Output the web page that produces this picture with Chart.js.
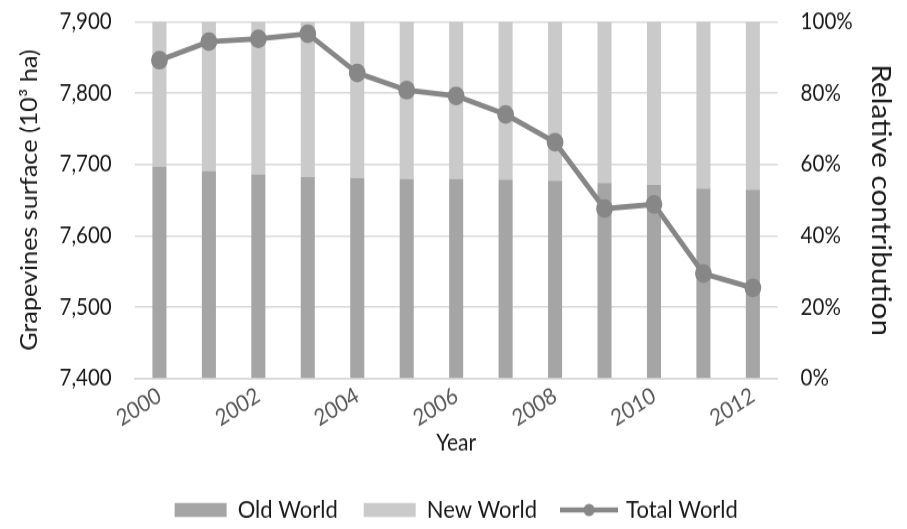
<!DOCTYPE html>
<html>
<head>
<meta charset="utf-8">
<script src="https://cdn.jsdelivr.net/npm/chart.js@4"></script>
<style>
  html, body { margin: 0; padding: 0; background: #fff; }
  #wrap { width: 907px; height: 529px; overflow: hidden; }
</style>
</head>
<body>
<div id="wrap">
  <!-- the reference is a little taller than wide in its glyphs, so the canvas is drawn shorter and stretched -->
  <canvas id="grapeChart" width="907" height="472" style="width:907px;height:529px;display:block"></canvas>
</div>
<script>
// values
const years = ['2000', '2001', '2002', '2003', '2004', '2005', '2006', '2007', '2008', '2009', '2010', '2011', '2012'];
const oldWorld = [59.4, 58.2, 57.2, 56.5, 56.2, 56.0, 56.0, 55.7, 55.4, 54.8, 54.3, 53.2, 52.9];
const newWorld = [40.6, 41.8, 42.8, 43.5, 43.8, 44.0, 44.0, 44.3, 44.6, 45.2, 45.7, 46.8, 47.1];
const totalWorld = [7846, 7872, 7876, 7883, 7828, 7804, 7796, 7770, 7731, 7638, 7644, 7547, 7527];

const font = "Lato, 'Open Sans', sans-serif";
Chart.defaults.font.family = font;
Chart.defaults.color = '#595959';

// little line+dot picture used as the legend symbol of the total
const lineSym = document.createElement('canvas');
lineSym.width = 58; lineSym.height = 14;
const lc = lineSym.getContext('2d');
lc.strokeStyle = '#878787';
lc.lineWidth = 4.5;
lc.beginPath(); lc.moveTo(0, 7); lc.lineTo(58, 7); lc.stroke();
lc.fillStyle = '#878787';
lc.beginPath(); lc.arc(29, 7, 5.5, 0, Math.PI * 2); lc.fill();

const clear = 'rgba(0,0,0,0)';

const ctx = document.getElementById('grapeChart').getContext('2d');
new Chart(ctx, {
    data: {
        labels: years,
        datasets: [
            {
                type: 'line',
                label: 'Total World',
                data: totalWorld,
                yAxisID: 'y',
                borderColor: '#878787',
                backgroundColor: '#878787',
                borderWidth: 4.8,
                pointRadius: 6,
                pointHoverRadius: 6,
                tension: 0,
                order: 0
            },
            {
                type: 'bar',
                label: 'Old World',
                data: oldWorld,
                yAxisID: 'y2',
                backgroundColor: '#a5a5a5',
                barPercentage: 0.284,
                categoryPercentage: 1,
                order: 1
            },
            {
                type: 'bar',
                label: 'New World',
                data: newWorld,
                yAxisID: 'y2',
                backgroundColor: '#cacaca',
                barPercentage: 0.284,
                categoryPercentage: 1,
                order: 1
            }
        ]
    },
    options: {
        responsive: false,
        animation: false,
        devicePixelRatio: 1,
        layout: { padding: { left: 12.5, right: 7, top: 0, bottom: -4 } },
        scales: {
            x: {
                stacked: true,
                grid: { display: false, drawTicks: false },
                border: { color: '#d9d9d9', width: 1.5 },
                ticks: {
                    autoSkip: false,
                    minRotation: 30,
                    maxRotation: 30,
                    padding: 3,
                    font: { size: 20.5 },
                    color: '#595959',
                    callback: function (v, i) { return i % 2 === 0 ? years[i] : ''; }
                },
                title: { display: true, text: 'Year', color: '#1a1a1a', font: { size: 21 }, padding: { top: -6, bottom: 10 } }
            },
            y: {
                position: 'left',
                min: 7400,
                max: 7900,
                grid: { color: '#d9d9d9', lineWidth: 1.5, drawTicks: true, tickLength: 16, tickColor: clear },
                border: { display: false },
                ticks: {
                    stepSize: 100,
                    padding: 7,
                    font: { size: 20.5 },
                    color: '#1a1a1a',
                    callback: v => v.toLocaleString('en-US')
                },
                title: { display: true, text: 'Grapevines surface (10³ ha)', color: '#1a1a1a', font: { size: 22.5 }, padding: { top: 4, bottom: 9 } }
            },
            y2: {
                position: 'right',
                stacked: true,
                min: 0,
                max: 100,
                grid: { display: true, drawOnChartArea: false, drawTicks: true, tickLength: 16, tickColor: clear },
                border: { display: false },
                ticks: {
                    stepSize: 20,
                    padding: 7,
                    font: { size: 20.5 },
                    color: '#1a1a1a',
                    callback: v => v + '%'
                },
                title: { display: true, text: 'Relative contribution', color: '#1a1a1a', font: { size: 26.5 }, padding: { top: 4, bottom: 4.5 } }
            }
        },
        plugins: {
            tooltip: { enabled: false },
            legend: {
                position: 'bottom',
                labels: {
                    usePointStyle: true,
                    pointStyleWidth: 52,
                    boxHeight: 12.5,
                    padding: 26,
                    color: '#1a1a1a',
                    font: { size: 22 },
                    generateLabels: function (chart) {
                        const items = Chart.defaults.plugins.legend.labels.generateLabels(chart);
                        items.forEach(it => {
                            if (it.text === 'Total World') {
                                it.pointStyle = lineSym;
                            } else {
                                it.pointStyle = 'rect';
                                it.lineWidth = 0;
                            }
                        });
                        const want = ['Old World', 'New World', 'Total World'];
                        return want.map(t => items.find(it => it.text === t));
                    }
                }
            }
        }
    }
});
</script>
</body>
</html>
